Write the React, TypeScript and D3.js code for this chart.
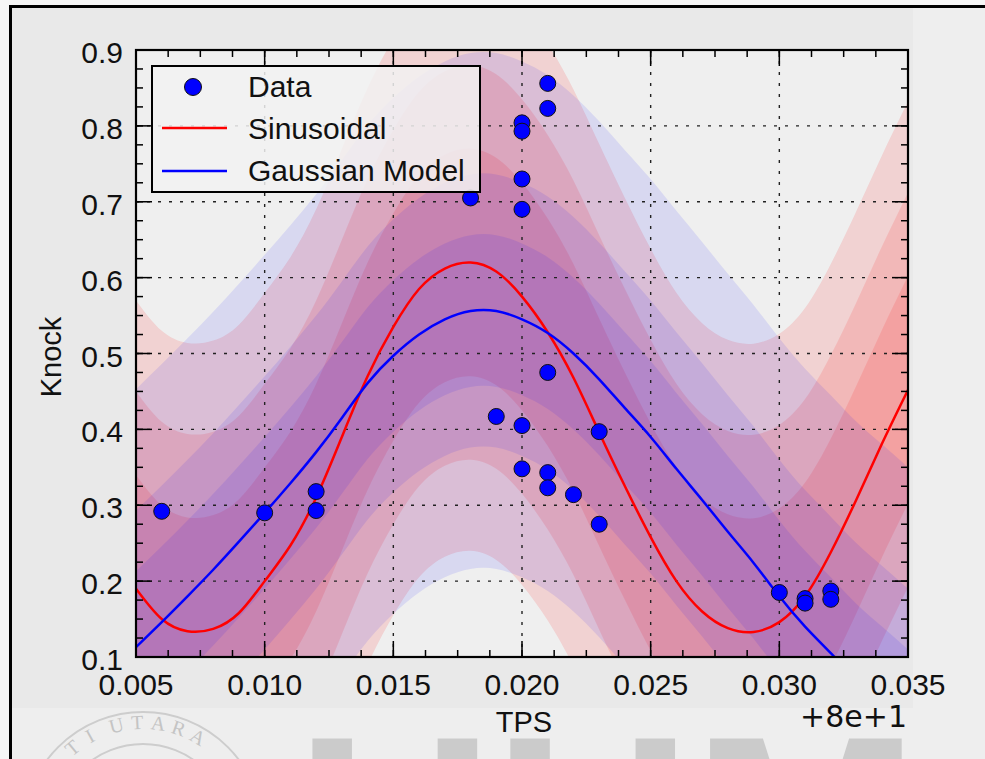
import React from "react";
import * as d3 from "d3";

// TPS axis values are shown relative to the +8e+1 offset
const tpsGrid = [
  0.005, 0.006, 0.007, 0.008, 0.009, 0.01, 0.011, 0.012, 0.013, 0.014, 0.015,
  0.016, 0.017, 0.018, 0.019, 0.02, 0.021, 0.022, 0.023, 0.024, 0.025, 0.026,
  0.027, 0.028, 0.029, 0.03, 0.031, 0.032, 0.033, 0.034, 0.035,
];
const sinusoidal = [
  0.19, 0.15, 0.134, 0.137, 0.158, 0.2, 0.247, 0.31, 0.39, 0.47, 0.535,
  0.585, 0.612, 0.62, 0.608, 0.575, 0.528, 0.468, 0.396, 0.325, 0.258, 0.2,
  0.16, 0.138, 0.133, 0.146, 0.18, 0.238, 0.308, 0.382, 0.452,
];
const gaussianModel = [
  0.113, 0.146, 0.18, 0.215, 0.252, 0.29, 0.329, 0.37, 0.415, 0.461, 0.497,
  0.525, 0.545, 0.556, 0.556, 0.545, 0.527, 0.5, 0.466, 0.428, 0.39, 0.348,
  0.307, 0.265, 0.224, 0.18, 0.14, 0.105, 0.07, 0.04, 0.01,
];
// half widths of the shaded intervals, outer to inner
const sinusoidalBands = [0.38, 0.26, 0.15];
const gaussianBands = [0.34, 0.18, 0.1];

const dataTps = [
  0.006, 0.01, 0.012, 0.012, 0.018, 0.019, 0.02, 0.02, 0.02, 0.02, 0.02, 0.02,
  0.021, 0.021, 0.021, 0.021, 0.021, 0.022, 0.023, 0.023, 0.03, 0.031, 0.031,
  0.032, 0.032,
];
const dataKnock = [
  0.292, 0.29, 0.318, 0.293, 0.705, 0.417, 0.804, 0.793, 0.73, 0.69, 0.405,
  0.348, 0.856, 0.823, 0.475, 0.343, 0.323, 0.314, 0.397, 0.275, 0.185, 0.177,
  0.171, 0.187, 0.176,
];

const xTicks = [0.005, 0.01, 0.015, 0.02, 0.025, 0.03, 0.035];
const yTicks = [0.1, 0.2, 0.3, 0.4, 0.5, 0.6, 0.7, 0.8, 0.9];
const legendLabels = ["Data", "Sinusoidal", "Gaussian Model"];

// watermark seal lettering (degrees from the top of the seal)
const sealLetters = ["T", "I", "U", "T", "A", "R", "A"];
const sealAngles = [-40, -29, -14, -3, 8, 19, 30];

const FONT = "'Liberation Sans', Arial, sans-serif";

export default function App() {
  const left = 136, right = 908, top = 50, bottom = 657;
  const x = d3.scaleLinear().domain([0.005, 0.035]).range([left, right]);
  const y = d3.scaleLinear().domain([0.1, 0.9]).range([bottom, top]);

  const sinPts = tpsGrid.map((t, i) => ({ t, v: sinusoidal[i] }));
  const gauPts = tpsGrid.map((t, i) => ({ t, v: gaussianModel[i] }));

  const band = (w: number) =>
    d3.area<{ t: number; v: number }>()
      .x(d => x(d.t))
      .y0(d => y(d.v - w))
      .y1(d => y(d.v + w))
      .curve(d3.curveNatural);
  const line = d3.line<{ t: number; v: number }>()
    .x(d => x(d.t))
    .y(d => y(d.v))
    .curve(d3.curveNatural);

  const xMinor = d3.range(0, 25).map(i => 0.005 + i * 0.00125).filter(v => v < 0.035);
  const yMinor = d3.range(0, 33).map(i => 0.1 + i * 0.025).filter(v => v < 0.9);

  const major = 16, minor = 7;
  const sealR = 103, sealX = 143, sealY = 832;

  return (
    <svg width={985} height={759} style={{ position: "absolute", left: 0, top: 0 }}
      fontFamily={FONT}>
      <defs>
        <clipPath id="plot">
          <rect x={left} y={top} width={right - left} height={bottom - top} />
        </clipPath>
      </defs>
      <rect x={0} y={0} width={985} height={759} fill="#f6f6f6" />
      <rect x={10.5} y={6.5} width={1000} height={800} fill="#eeeeee" stroke="#000" strokeWidth={3} />
      <rect x={12} y={8} width={901} height={700} fill="#e9e9e9" />

      {/* watermark */}
      <g fill="none" stroke="#cdcdcd" strokeWidth={2}>
        <circle cx={sealX} cy={sealY} r={120} />
        <circle cx={sealX} cy={sealY} r={88} />
      </g>
      <g fontFamily="'Liberation Serif', serif" fontSize={20} fill="#c4c4c4">
        {sealLetters.map((c, i) => {
          const a = (sealAngles[i] * Math.PI) / 180;
          const px = sealX + sealR * Math.sin(a);
          const py = sealY - sealR * Math.cos(a);
          return (
            <text key={i} x={0} y={0} textAnchor="middle"
              transform={`translate(${px},${py}) rotate(${sealAngles[i]})`}>{c}</text>
          );
        })}
      </g>
      <text x={296} y={927} fontSize={274} fontWeight="bold" fill="#cbcbcb">UUM</text>

      {/* axes background and bands */}
      <rect x={left} y={top} width={right - left} height={bottom - top} fill="#efefef" />
      <g clipPath="url(#plot)">
        {sinusoidalBands.map((w, i) => (
          <path key={"s" + i} d={band(w)(sinPts) || ""} fill="#ff0000" fillOpacity={0.12} />
        ))}
        {gaussianBands.map((w, i) => (
          <path key={"g" + i} d={band(w)(gauPts) || ""} fill="#0000ff" fillOpacity={0.095} />
        ))}
      </g>

      {/* grid */}
      <g stroke="#222" strokeWidth={1.4} strokeDasharray="3,8">
        {xTicks.slice(1, -1).map(t => (
          <line key={t} x1={x(t)} x2={x(t)} y1={top} y2={bottom} />
        ))}
        {yTicks.slice(1, -1).map(t => (
          <line key={t} x1={left} x2={right} y1={y(t)} y2={y(t)} />
        ))}
      </g>

      {/* model curves */}
      <g clipPath="url(#plot)" fill="none" strokeWidth={2.5}>
        <path d={line(sinPts) || ""} stroke="#ff0000" />
        <path d={line(gauPts) || ""} stroke="#0000ff" />
      </g>

      {/* data */}
      <g fill="#0000ff" stroke="#111" strokeWidth={1}>
        {dataTps.map((t, i) => (
          <circle key={i} cx={x(t)} cy={y(dataKnock[i])} r={8} />
        ))}
      </g>

      {/* ticks */}
      <g stroke="#000" strokeWidth={1.5}>
        {xTicks.map(t => (
          <g key={t}>
            <line x1={x(t)} x2={x(t)} y1={bottom} y2={bottom - major} />
            <line x1={x(t)} x2={x(t)} y1={top} y2={top + major} />
          </g>
        ))}
        {xMinor.map(t => (
          <g key={t}>
            <line x1={x(t)} x2={x(t)} y1={bottom} y2={bottom - minor} />
            <line x1={x(t)} x2={x(t)} y1={top} y2={top + minor} />
          </g>
        ))}
        {yTicks.map(t => (
          <g key={t}>
            <line x1={left} x2={left + major} y1={y(t)} y2={y(t)} />
            <line x1={right} x2={right - major} y1={y(t)} y2={y(t)} />
          </g>
        ))}
        {yMinor.map(t => (
          <g key={t}>
            <line x1={left} x2={left + minor} y1={y(t)} y2={y(t)} />
            <line x1={right} x2={right - minor} y1={y(t)} y2={y(t)} />
          </g>
        ))}
      </g>
      <rect x={left} y={top} width={right - left} height={bottom - top} fill="none" stroke="#000" strokeWidth={2.2} />

      {/* tick labels */}
      <g fontSize={30} fill="#111">
        {xTicks.map(t => (
          <text key={t} x={x(t)} y={695} textAnchor="middle">{d3.format(".3f")(t)}</text>
        ))}
        {yTicks.map(t => (
          <text key={t} x={123} y={y(t) + 13} textAnchor="end">{d3.format(".1f")(t)}</text>
        ))}
      </g>
      <text x={524} y={732} fontSize={29} textAnchor="middle" fill="#111">TPS</text>
      <text x={907} y={727} fontSize={30} textAnchor="end" fill="#111"
        fontFamily="'DejaVu Sans', sans-serif">+8e+1</text>
      <text transform="translate(61,357) rotate(-90)" fontSize={29} textAnchor="middle" fill="#111">Knock</text>

      {/* legend */}
      <rect x={152} y={66} width={328} height={126} fill="#f2f2f2" fillOpacity={0.85} stroke="#000" strokeWidth={2} />
      <circle cx={193} cy={87} r={8.5} fill="#0000ff" stroke="#111" strokeWidth={1} />
      <line x1={162} x2={227} y1={128} y2={128} stroke="#ff0000" strokeWidth={2.5} />
      <line x1={162} x2={227} y1={171} y2={171} stroke="#0000ff" strokeWidth={2.5} />
      <g fontSize={30} fill="#111">
        {legendLabels.map((l, i) => (
          <text key={l} x={248} y={97 + i * 42}>{l}</text>
        ))}
      </g>
    </svg>
  );
}
